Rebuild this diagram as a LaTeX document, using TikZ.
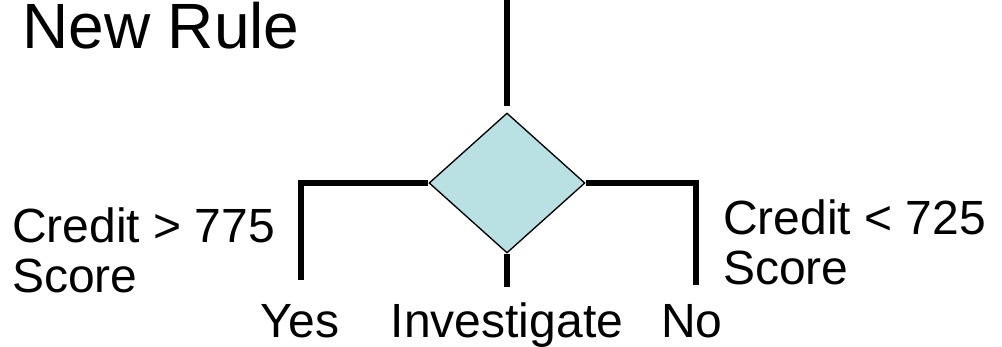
\documentclass[tikz,border=0pt]{standalone}
\usepackage{fontspec}
\setmainfont{Liberation Sans}
\usetikzlibrary{shapes.geometric,positioning}
\definecolor{ruleblue}{RGB}{185,224,227}

\begin{document}
\begin{tikzpicture}[x=0.75pt,y=-0.75pt]
	\useasboundingbox (0,0) rectangle (1002,346);
	\node[anchor=base west,inner sep=0pt,font=\fontsize{48}{50}\selectfont] (title) at (22,49) {New Rule};

	\begin{scope}[every node/.style={inner sep=0pt,font=\fontsize{36}{37.5}\selectfont}]
		\node[diamond,draw,line width=1pt,fill=ruleblue,minimum width=117pt,minimum height=105pt] (test) at (507,183) {};
		\node[anchor=north west,align=left] (hi) at (12,207) {Credit > 775\\Score};
		\node[anchor=north west,align=left] (lo) at (723,199) {Credit < 725\\Score};
		\node[anchor=base] (yes) at (300,337) {Yes};
		\node[anchor=base] (inv) at (507,337) {Investigate};
		\node[anchor=base] (no) at (692,337) {No};
	\end{scope}

	\coordinate (entry) at (507,0);
	\coordinate (yesEnd) at (301,280);
	\coordinate (invEnd) at (507,287);
	\coordinate (noEnd) at (696,285);

	\begin{scope}[line width=4.5pt]
		\draw[shorten >=5pt] (entry) -- (test.north);
		\draw (test.west) -| (yesEnd);
		\draw (test.south) -- (invEnd);
		\draw (test.east) -| (noEnd);
	\end{scope}
\end{tikzpicture}
\end{document}
